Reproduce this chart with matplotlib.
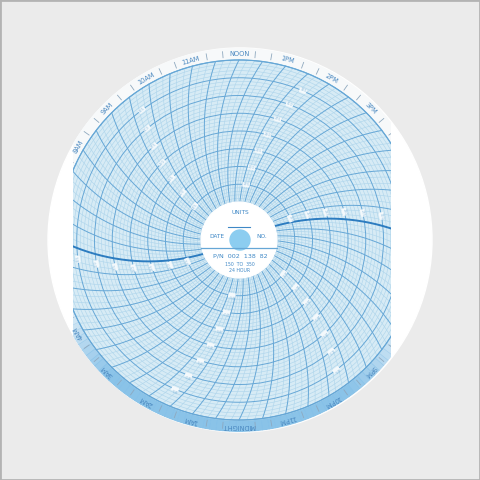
import numpy as np
import matplotlib
matplotlib.use("Agg")
from matplotlib import pyplot as plt
from matplotlib.patches import Circle, Wedge, Polygon, Rectangle

# chart paper data
hour_labels = ["NOON", "1PM", "2PM", "3PM", "4PM", "5PM", "6PM", "7PM", "8PM",
               "9PM", "10PM", "11PM", "MIDNIGHT", "1AM", "2AM", "3AM", "4AM",
               "5AM", "6AM", "7AM", "8AM", "9AM", "10AM", "11AM"]
scale_min, scale_max = 150, 350
scale_major = 25
scale_minor = 5
scale_labels = [175, 200, 225, 250, 275, 300, 325]
label_arms = ["10AM", "2PM", "6PM", "10PM", "2AM", "6AM"]
bold_hours = ["6AM", "6PM"]
minutes_per_line = 10
hub_title = "UNITS"
hub_fields = ["DATE", "NO."]
hub_lines = ["P/N  002  138  82", "150  TO  350", "24 HOUR"]

R_HUB, R_GRID, R_PAPER = 38, 180, 192
X_LEFT, X_RIGHT = -166, 152
ARC_R = 200
BLUE_LIGHT = "#b0d6ec"
BLUE_DARK = "#66a7d6"
BLUE_BOLD = "#2c7cc0"
TEXT_BLUE = "#3f88c6"


def value_r(v):
    return R_HUB + (v - scale_min) / (scale_max - scale_min) * (R_GRID - R_HUB)


def time_arc(phi, n=300):
    # pen arc through the centre and the outer point at clock angle phi
    th = np.radians(90 - phi)
    h = np.sqrt(ARC_R ** 2 - R_GRID ** 2 / 4)
    cx = R_GRID / 2 * np.cos(th) + h * np.sin(th)
    cy = R_GRID / 2 * np.sin(th) - h * np.cos(th)
    px, py = R_GRID * np.cos(th), R_GRID * np.sin(th)
    a0 = np.arctan2(-cy, -cx)
    a1 = np.arctan2(py - cy, px - cx)
    d = (a1 - a0 + np.pi) % (2 * np.pi) - np.pi
    t = a0 + d * np.linspace(0, 1, n)
    x = cx + ARC_R * np.cos(t)
    y = cy + ARC_R * np.sin(t)
    r = np.hypot(x, y)
    m = r >= R_HUB
    return x[m], y[m], r[m]


def on_paper(x):
    return X_LEFT + 4 < x < X_RIGHT - 4


fig = plt.figure(figsize=(4.8, 4.8), dpi=100, facecolor="#ebebeb")
ax = fig.add_axes([0, 0, 1, 1])
ax.set_xlim(-239, 241)
ax.set_ylim(-240, 240)
ax.axis("off")
fig.add_artist(Rectangle((0, 0), 1, 1, transform=fig.transFigure, fill=False,
                         ec="#b3b3b3", lw=2))

ax.add_patch(Circle((1, 0), R_PAPER, color="white", zorder=1))

# paper is cut off left and right
tt = np.linspace(0, 2 * np.pi, 720)
clip_xy = np.column_stack([np.clip(R_PAPER * np.cos(tt), X_LEFT, X_RIGHT), R_PAPER * np.sin(tt)])
clip = Polygon(clip_xy, closed=True, fc="none", ec="none")
ax.add_patch(clip)

arts = []
arts.append(ax.add_patch(Circle((0, 0), R_PAPER, color="#f7f9fa", zorder=2)))
# blue tint on the bottom of the outer ring
for a in np.arange(195, 336, 2):
    al = np.clip(1.5 * np.sin((a - 195) / 141 * np.pi), 0, 0.95)
    arts.append(ax.add_patch(Wedge((0, 0), R_PAPER, a, a + 2.2, width=R_PAPER - R_GRID,
                                   color="#84c0e8", alpha=al, lw=0, zorder=2.5)))
arts.append(ax.add_patch(Circle((0, 0), R_GRID, color="#d7ebf5", zorder=3)))

# value circles
for v in np.arange(scale_min, scale_max + 1, scale_minor):
    major = (v - scale_min) % scale_major == 0
    arts.append(ax.add_patch(Circle((0, 0), value_r(v), fill=False,
                                    ec=BLUE_DARK if major else BLUE_LIGHT,
                                    lw=0.7 if major else 0.45, zorder=4 if major else 3.5)))

# time arcs
n_lines = 24 * 60 // minutes_per_line
for k in range(n_lines):
    minutes = k * minutes_per_line
    phi = minutes / 60 * 15
    x, y, r = time_arc(phi)
    hour_name = hour_labels[int(minutes // 60)] if minutes % 60 == 0 else ""
    if hour_name in bold_hours:
        ln, = ax.plot(x, y, color=BLUE_BOLD, lw=1.4, zorder=5)
    elif minutes % 30 == 0:
        ln, = ax.plot(x, y, color=BLUE_DARK, lw=0.7, zorder=4.5)
    else:
        ln, = ax.plot(x, y, color=BLUE_LIGHT, lw=0.45, zorder=3.6)
    arts.append(ln)

arts.append(ax.add_patch(Circle((0, 0), R_GRID, fill=False, ec=BLUE_DARK, lw=0.8, zorder=5)))

# outer ring labels and ticks
for i, lab in enumerate(hour_labels):
    phi = i * 15
    a = np.radians(phi)
    if on_paper(186 * np.sin(a)):
        ax.text(186 * np.sin(a), 186 * np.cos(a), lab, rotation=-phi,
                ha="center", va="center", fontsize=4.8, color="#4a88c0",
                rotation_mode="anchor", zorder=6)
    for q in (1, 2):
        b = np.radians(phi + q * 5)
        arts.append(ax.plot([183 * np.sin(b), 189 * np.sin(b)], [183 * np.cos(b), 189 * np.cos(b)],
                            color="#8fa9bf", lw=0.6, zorder=6)[0])

# scale numbers along a few arms
for lab in label_arms:
    phi = hour_labels.index(lab) * 15 - 4
    x, y, r = time_arc(phi)
    for v in scale_labels:
        px = np.interp(value_r(v), r, x)
        py = np.interp(value_r(v), r, y)
        if not on_paper(px):
            continue
        ang = np.degrees(np.arctan2(px, py))
        ax.text(px, py, str(v), rotation=-ang, ha="center", va="center",
                fontsize=2.5, color="#8bbbdc", rotation_mode="anchor", zorder=6,
                bbox=dict(boxstyle="square,pad=0.1", fc="#f4f9fc", ec="none"))

# hub
ax.add_patch(Circle((0, 0), R_HUB, color="white", zorder=7))
ax.add_patch(Circle((1, 0), 10, color="#8ccdf0", zorder=8))
ax.text(1, 28, hub_title, ha="center", va="center", fontsize=4.2, color=TEXT_BLUE, zorder=8)
ax.plot([-11, 11], [13, 13], color=TEXT_BLUE, lw=0.8, zorder=8)
ax.text(-22, 4, hub_fields[0], ha="center", va="center", fontsize=4.2, color=TEXT_BLUE, zorder=8)
ax.text(23, 4, hub_fields[1], ha="center", va="center", fontsize=4.2, color=TEXT_BLUE, zorder=8)
ax.plot([-R_HUB, R_HUB], [-8, -8], color=BLUE_DARK, lw=0.9, zorder=8)
for txt, yy, fs in zip(hub_lines, [-16, -24, -31], [4.6, 3.3, 3.3]):
    ax.text(1, yy, txt, ha="center", va="center", fontsize=fs, color=TEXT_BLUE, zorder=8)

for art in arts:
    art.set_clip_path(clip)

fig.savefig("out.png", dpi=100, facecolor=fig.get_facecolor())
